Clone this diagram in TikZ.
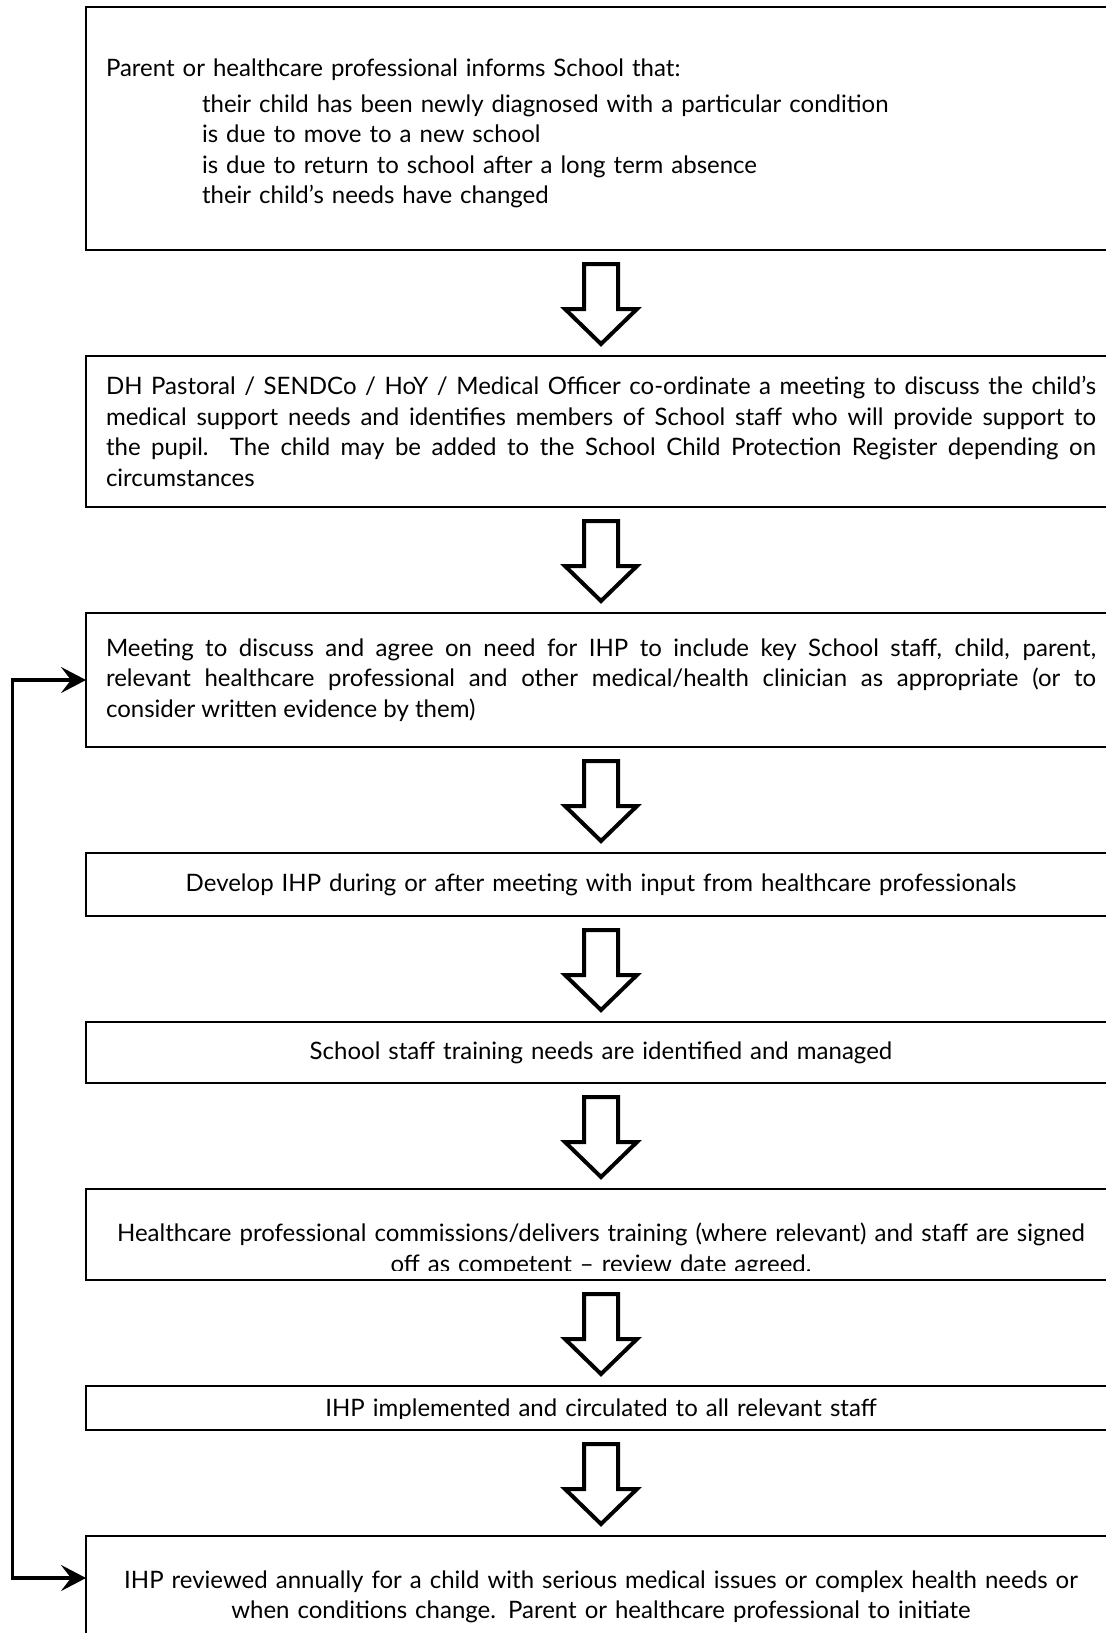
\documentclass[tikz,border=0pt]{standalone}
\usepackage{fontspec}
\setmainfont{Lato}
\usetikzlibrary{positioning}
\usetikzlibrary{calc}
\usetikzlibrary{arrows.meta}

\newcommand{\jline}[1]{\makebox[\linewidth][s]{#1}\\}

\begin{document}
\begin{tikzpicture}[
    font=\fontsize{12}{15.2}\selectfont,
    node distance=53pt,
    flowbox/.style={draw, line width=1.25pt, minimum width=515pt, text width=495pt, inner xsep=0pt, inner ysep=2pt, outer sep=0pt},
    blockarrow/.style={draw, line width=2pt, fill=white},
    loopline/.style={line width=1.65pt, {Stealth[length=12.5pt,width=13pt,inset=5pt]}-{Stealth[length=12.5pt,width=13pt,inset=5pt]}}
  ]
  \useasboundingbox (0,0) rectangle (552.5pt,-816.5pt);

  \node[flowbox, anchor=north west, minimum height=121.5pt, align=left, text depth=61.3pt] (inform) at (43pt,-3.5pt)
    {Parent or healthcare professional informs School that:\\[3pt]
     \hspace*{48pt}their child has been newly diagnosed with a particular condition\\
     \hspace*{48pt}is due to move to a new school\\
     \hspace*{48pt}is due to return to school after a long term absence\\
     \hspace*{48pt}their child’s needs have changed};
  \node[flowbox, below=of inform, minimum height=75.5pt, align=justify] (coord)
    {\jline{DH Pastoral / SENDCo / HoY / Medical Officer co-ordinate a meeting to discuss the child’s}
     \jline{medical support needs and identifies members of School staff who will provide support to}
     \jline{the pupil. The child may be added to the School Child Protection Register depending on}
     circumstances};
  \node[flowbox, below=of coord, minimum height=67pt, align=justify] (meet)
    {\jline{Meeting to discuss and agree on need for IHP to include key School staff, child, parent,}
     \jline{relevant healthcare professional and other medical/health clinician as appropriate (or to}
     consider written evidence by them)};
  \node[flowbox, below=of meet, minimum height=31.5pt, align=center] (develop)
    {Develop IHP during or after meeting with input from healthcare professionals};
  \node[flowbox, below=of develop, minimum height=30.5pt, align=center] (train)
    {School staff training needs are identified and managed};
  \node[flowbox, below=of train, minimum height=45.5pt, align=center, text depth=2pt] (deliver)
    {Healthcare professional commissions/delivers training (where relevant) and staff are signed\\
     off as competent – review date agreed.};
  \node[flowbox, below=of deliver, minimum height=22pt, align=center, text depth=0pt] (implement)
    {IHP implemented and circulated to all relevant staff};
  \node[flowbox, below=of implement, minimum height=61pt, align=center] (review)
    {IHP reviewed annually for a child with serious medical issues or complex health needs or\\
     when conditions change. Parent or healthcare professional to initiate};

  % text cut off at the foot of two boxes
  \fill[white] ([xshift=0.7pt,yshift=0.7pt]deliver.south west) rectangle ([yshift=4.5pt]deliver.south east);
  \fill[white] ([xshift=0.7pt,yshift=0.7pt]implement.south west) rectangle ([yshift=5.5pt]implement.south east);

  % hollow arrows between the steps
  \foreach \a/\b in {inform/coord, coord/meet, meet/develop, develop/train, train/deliver, deliver/implement, implement/review}
    \draw[blockarrow] let \p1=(\a.south), \p2=(\b.north) in
      (\x1-8.5pt,\y1-7pt) -- (\x1+8.5pt,\y1-7pt) -- (\x1+8.5pt,\y2+23.5pt) -- (\x1+18pt,\y2+23.5pt)
      -- (\x1,\y2+6pt) -- (\x1-18pt,\y2+23.5pt) -- (\x1-8.5pt,\y2+23.5pt) -- cycle;

  % review loop
  \coordinate (back) at (6.35pt,0);
  \coordinate (reviewin) at ([yshift=-21pt]review.north west);
  \draw[loopline] (reviewin) -- (reviewin -| back) -- (meet.west -| back) -- (meet.west);
\end{tikzpicture}
\end{document}
